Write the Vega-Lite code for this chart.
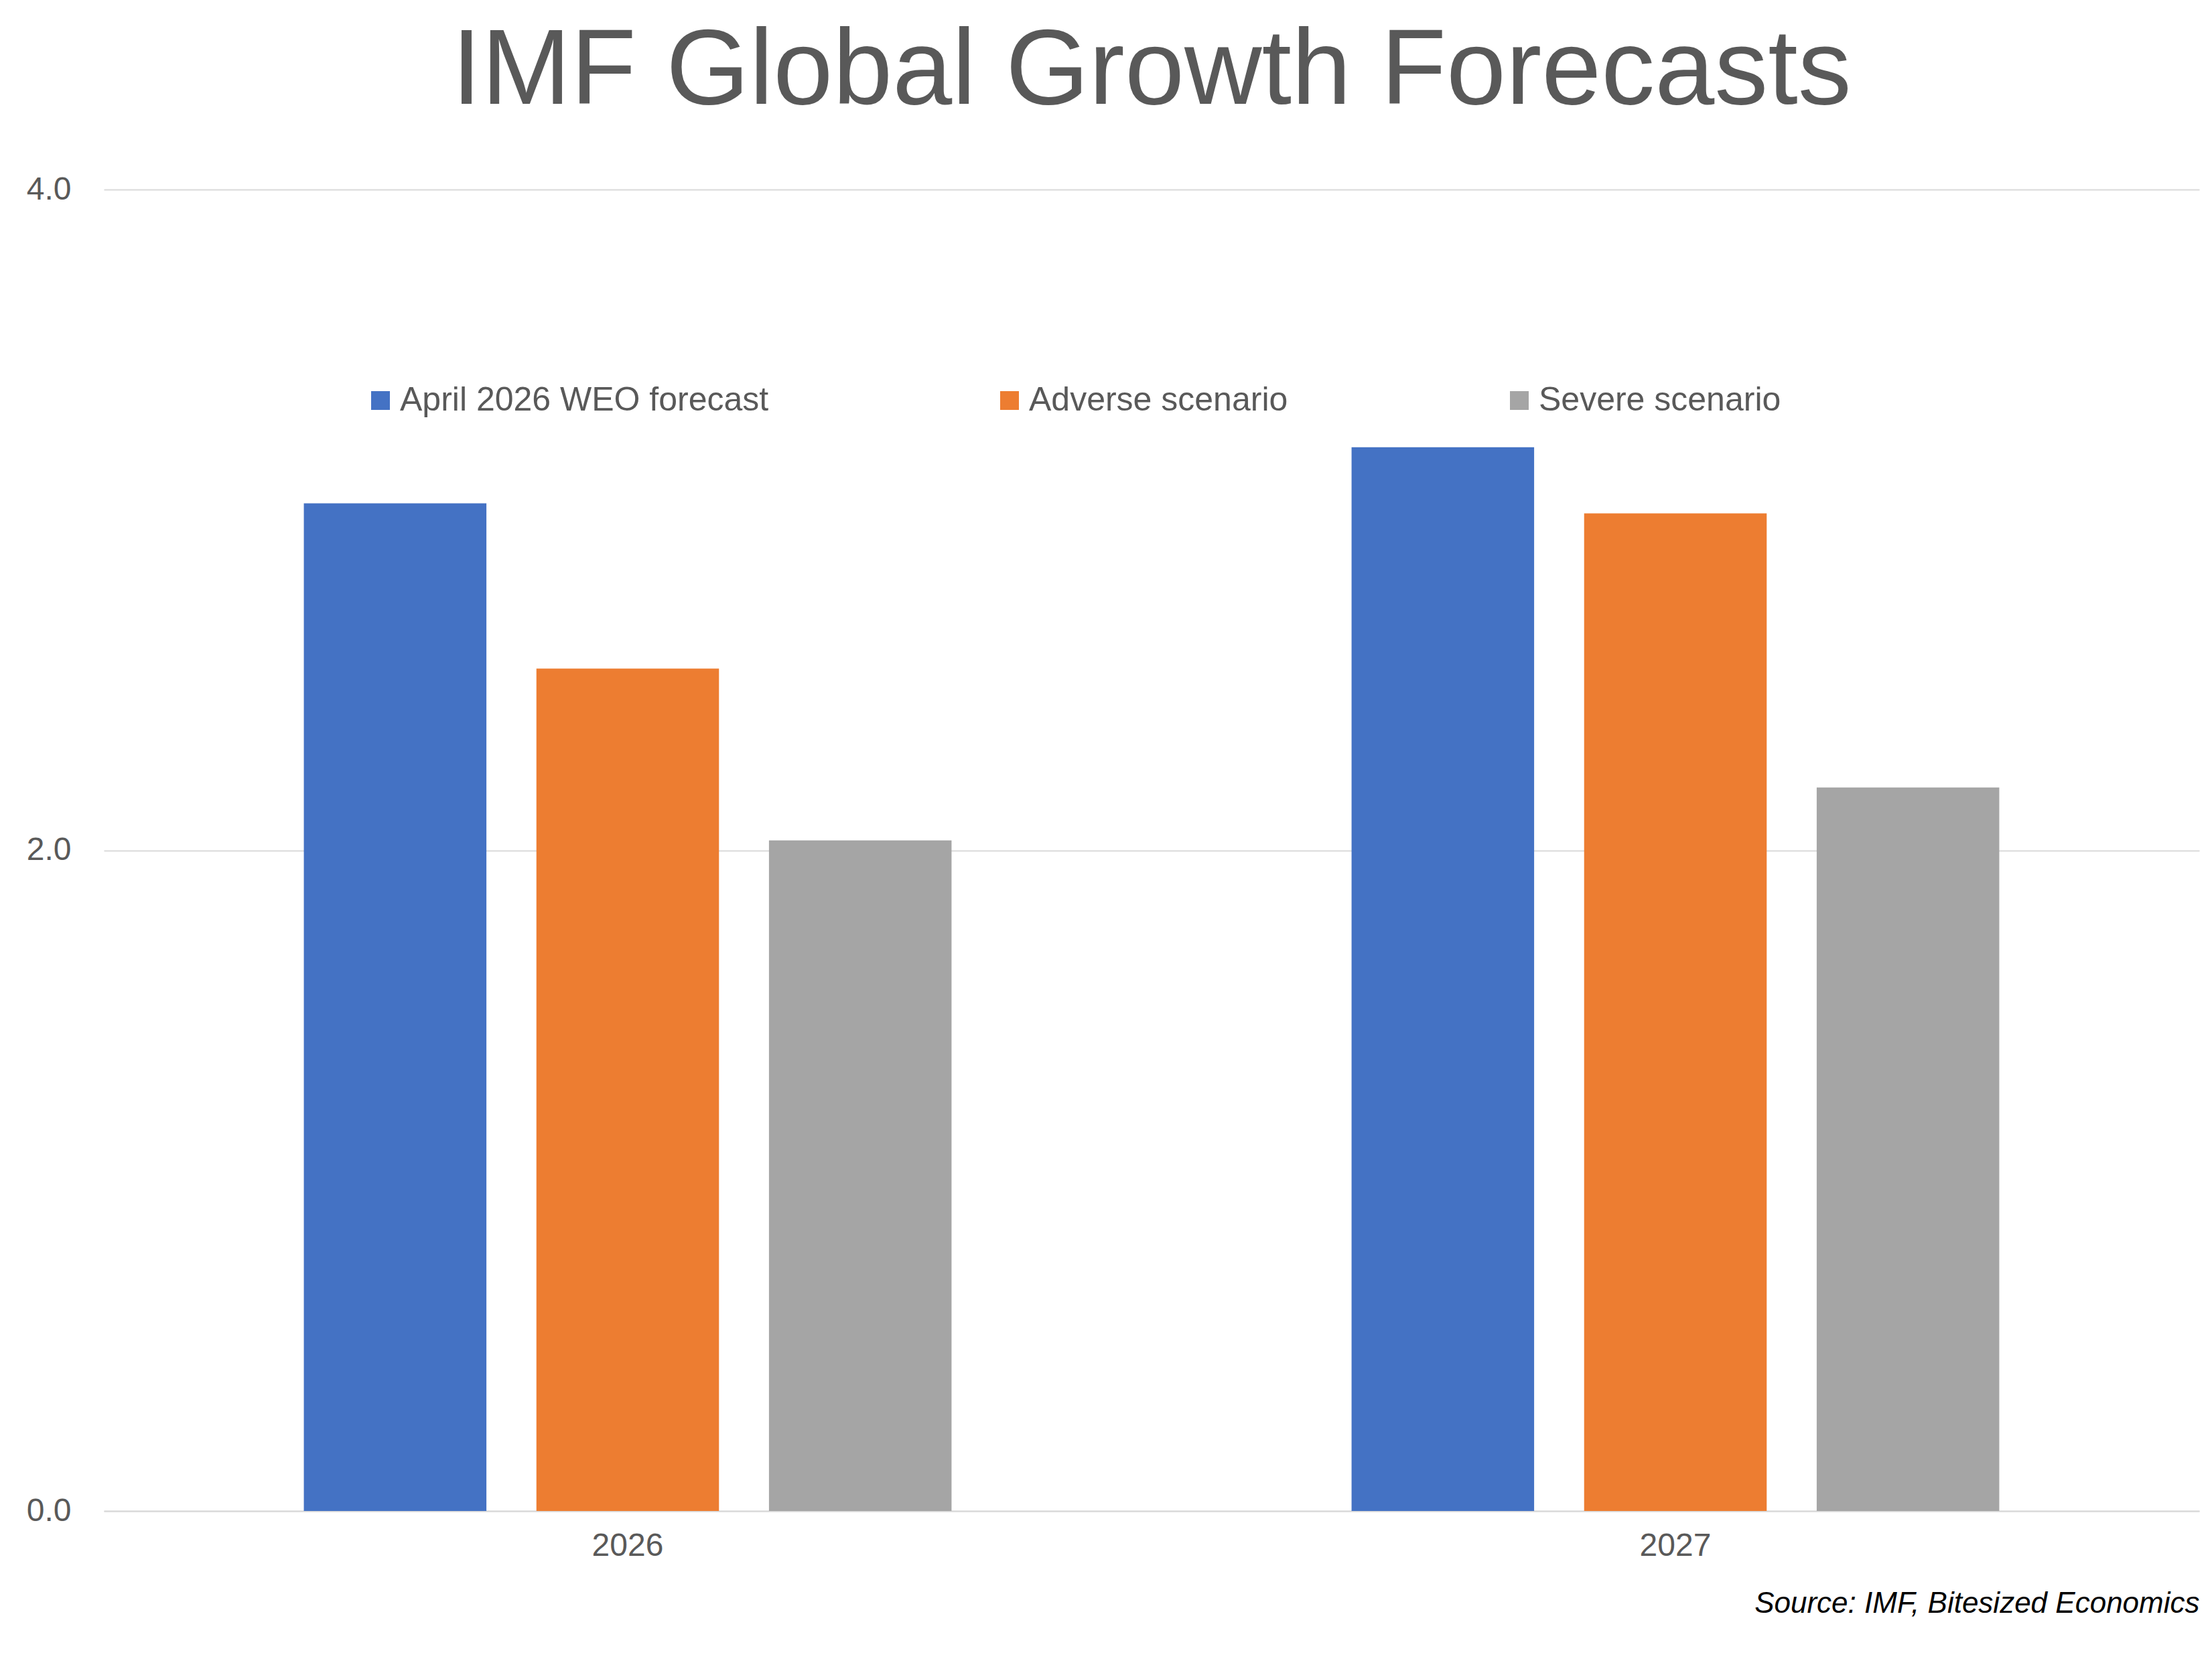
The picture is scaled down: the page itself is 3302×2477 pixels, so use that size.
{
  "$schema": "https://vega.github.io/schema/vega-lite/v6.json",
  "autosize": "none",
  "padding": {"left": 155, "top": 283, "right": 19, "bottom": 221},
  "width": 3128,
  "height": 1973,
  "background": "white",
  "config": {"view": {"stroke": null}},
  "title": {
    "text": "IMF Global Growth Forecasts",
    "font": "Liberation Sans",
    "fontSize": 160,
    "fontWeight": "normal",
    "color": "#595959",
    "anchor": "middle",
    "offset": 70
  },
  "data": {
    "values": [
      {"year": "2026", "series": "April 2026 WEO  forecast", "value": 3.05},
      {"year": "2026", "series": "Adverse scenario", "value": 2.55},
      {"year": "2026", "series": "Severe scenario", "value": 2.03},
      {"year": "2027", "series": "April 2026 WEO  forecast", "value": 3.22},
      {"year": "2027", "series": "Adverse scenario", "value": 3.02},
      {"year": "2027", "series": "Severe scenario", "value": 2.19}
    ]
  },
  "mark": {"type": "bar"},
  "encoding": {
    "x": {
      "field": "year",
      "type": "nominal",
      "scale": {"paddingInner": 0, "paddingOuter": 0},
      "axis": {
        "title": "Source: IMF, Bitesized Economics",
        "titleFont": "Liberation Sans",
        "titleFontSize": 44,
        "titleFontStyle": "italic",
        "titleFontWeight": "normal",
        "titleColor": "#000000",
        "titleAnchor": "end",
        "titlePadding": 40,
        "labelAngle": 0,
        "labelFont": "Liberation Sans",
        "labelFontSize": 48,
        "labelColor": "#595959",
        "labelPadding": 28,
        "ticks": false,
        "domainColor": "#d9d9d9",
        "domainWidth": 2
      }
    },
    "xOffset": {
      "field": "series",
      "type": "nominal",
      "sort": ["April 2026 WEO  forecast", "Adverse scenario", "Severe scenario"],
      "scale": {"paddingInner": 0.215, "paddingOuter": 0.86}
    },
    "y": {
      "field": "value",
      "type": "quantitative",
      "scale": {"domain": [0, 4]},
      "axis": {
        "title": null,
        "values": [0, 2, 4],
        "format": ".1f",
        "labelFont": "Liberation Sans",
        "labelFontSize": 48,
        "labelColor": "#595959",
        "labelPadding": 49,
        "ticks": false,
        "domain": false,
        "gridColor": "#d9d9d9",
        "gridWidth": 2
      }
    },
    "color": {
      "field": "series",
      "type": "nominal",
      "scale": {
        "domain": ["April 2026 WEO  forecast", "Adverse scenario", "Severe scenario"],
        "range": ["#4472C4", "#ED7D31", "#A5A5A5"]
      },
      "legend": {
        "title": null,
        "orient": "none",
        "legendX": 388,
        "legendY": 290,
        "direction": "horizontal",
        "symbolType": "square",
        "symbolSize": 784,
        "symbolStrokeWidth": 0,
        "labelFont": "Liberation Sans",
        "labelFontSize": 50,
        "labelColor": "#595959",
        "labelLimit": 0,
        "columnPadding": 320
      }
    }
  }
}
